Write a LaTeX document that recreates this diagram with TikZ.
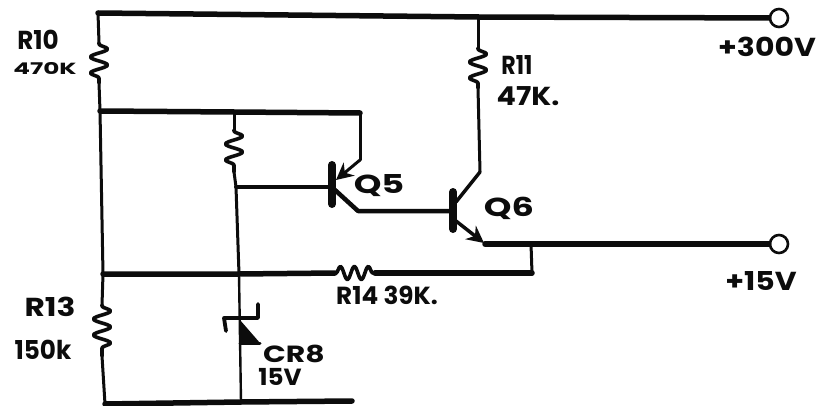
\documentclass[tikz,border=0pt]{standalone}
\usepackage{fontspec}
\setmainfont{Poppins}
\usepackage{tikz}
\usetikzlibrary{arrows.meta,decorations.pathmorphing}
\tikzset{>={Stealth[length=17pt,width=17pt]}}
\definecolor{inkblack}{RGB}{12, 12, 12}
\tikzset{
  wire/.style={inkblack,line width=3pt,line cap=round,line join=round},
  rail/.style={inkblack,line width=5.5pt,line cap=round,line join=round},
  barbase/.style={inkblack,line width=8pt,line cap=round},
  resv/.style={wire,line width=3.6pt,decorate,decoration={snake,segment length=16pt,amplitude=8.5pt,pre length=1pt,post length=1pt}},
  resh/.style={wire,line width=3.6pt,decorate,decoration={snake,segment length=14pt,amplitude=6.5pt,pre length=1pt,post length=1pt}},
  terminal/.style={circle,draw=inkblack,fill=white,line width=2.6pt,minimum size=18pt,inner sep=0pt},
  lab/.style={inkblack,inner sep=0pt,font=\fontsize{26}{28}\selectfont},
}

\begin{document}
\begin{tikzpicture}[x=1pt,y=-1pt]
\useasboundingbox (0,0) rectangle (821,406);
\fill[white] (0,0) rectangle (821,406);
% supply rails
\coordinate (topleft) at (98,13);
\coordinate (topr11) at (478,17);
\node[terminal] (t300) at (779,18) {};
\coordinate (midleft) at (100,111);
\coordinate (midr) at (234,112);
\coordinate (midright) at (360,113);
\coordinate (fbleft) at (103,274);
\coordinate (fbz) at (239,274);
\coordinate (r14a) at (335,273);
\coordinate (r14b) at (375,273);
\coordinate (fbright) at (532,273);
\coordinate (botleft) at (105,404);
\coordinate (botz) at (241,402);
\coordinate (botright) at (352,401);
\draw[rail] (topleft) -- (topr11) -- (t300);
\draw[rail] (midleft) -- (midr) -- (midright);
\draw[rail] (fbleft) -- (fbz) -- (r14a);
\draw[rail] (r14b) -- (fbright);
\draw[rail] (botleft) -- (botz) -- (botright);
% left side
\coordinate (r10a) at (99,43);
\coordinate (r10b) at (99,83);
\coordinate (r13a) at (102,305);
\coordinate (r13b) at (102,356);
\draw[wire] (topleft) -- (r10a);
\draw[resv] (r10a) -- (r10b);
\draw[wire] (r10b) -- (midleft) -- (fbleft) -- (r13a);
\draw[resv] (r13a) -- (r13b);
\draw[wire] (r13b) -- (botleft);
\draw[resh] (r14a) -- (r14b);
% R11
\coordinate (r11a) at (478,48);
\coordinate (r11b) at (478,88);
\coordinate (q6bend) at (480,172);
\draw[wire] (topr11) -- (r11a);
\draw[resv] (r11a) -- (r11b);
\draw[wire] (r11b) -- (q6bend);
% Q5 bias
\coordinate (r12a) at (234,130);
\coordinate (r12b) at (234,172);
\coordinate (q5base) at (236,187);
\draw[wire] (midr) -- (r12a);
\draw[resv] (r12a) -- (r12b);
\draw[wire] (r12b) -- (q5base) -- (fbz);
% Q5
\coordinate (q5bara) at (332,165);
\coordinate (q5barb) at (332,204);
\coordinate (q5in) at (332,187);
\coordinate (q5ebend) at (360,160);
\coordinate (q5etip) at (336,180);
\coordinate (q5c) at (335,190);
\coordinate (q5cbend) at (358,211);
\coordinate (q6in) at (453,211);
\draw[barbase] (q5bara) -- (q5barb);
\draw[wire,line width=4pt] (q5base) -- (q5in);
\draw[wire] (midright) -- (q5ebend);
\draw[wire,->] (q5ebend) -- (q5etip);
\draw[rail,line width=4.5pt] (q5c) -- (q5cbend) -- (q6in);
% Q6
\coordinate (q6bara) at (453,192);
\coordinate (q6barb) at (453,229);
\coordinate (q6c) at (456,202);
\coordinate (q6e) at (456,221);
\coordinate (q6etip) at (484,243);
\coordinate (q6ebend) at (485,244);
\coordinate (fbtap) at (531,244);
\node[terminal] (t15) at (779,244) {};
\draw[barbase] (q6bara) -- (q6barb);
\draw[wire,line width=3.5pt] (q6bend) -- (q6c);
\draw[wire,line width=3.5pt,->] (q6e) -- (q6etip);
\draw[rail] (q6ebend) -- (fbtap) -- (t15);
\draw[wire] (fbtap) -- (fbright);
% zener
\coordinate (zbara) at (226,331);
\coordinate (zbarb) at (224,318);
\coordinate (zbarc) at (258,318);
\coordinate (zbard) at (258,304);
\coordinate (ztri) at (260,343);
\coordinate (ztop) at (240,320);
\coordinate (zbot) at (240,343);
\draw[wire,line width=3.8pt] (zbara) -- (zbarb) -- (zbarc) -- (zbard);
\fill[inkblack] (ztop) -- (ztri) -- (zbot) -- cycle;
\draw[wire,line width=2.4pt] (botz) -- (fbz);
\draw[wire] (ztri) -- (zbot);
% labels
\node[lab,xscale=.95] (lr10) at (38,40) {\bfseries R10};
\node[lab,xscale=.95,yscale=.62] (l470) at (45,68) {\bfseries 470K};
\node[lab,xscale=.85] (lr11) at (517,65) {\bfseries R11};
\node[lab,xscale=1.1] (l47) at (528,96) {\bfseries 47K.};
\node[lab,xscale=1.15] (l300) at (767,47) {\bfseries +300V};
\node[lab,xscale=1.35] (lq5) at (379,186) {\bfseries Q5};
\node[lab,xscale=1.35] (lq6) at (509,208) {\bfseries Q6};
\node[lab,xscale=1.15] (l15) at (761,281) {\bfseries +15V};
\node[lab,xscale=.95,yscale=.95] (lr14) at (387,295) {\bfseries R14 39K.};
\node[lab,xscale=1.2] (lr13) at (50,307) {\bfseries R13};
\node[lab,xscale=.95] (l150) at (43,350) {\bfseries 150k};
\node[lab,xscale=1.15,yscale=.9] (lcr8) at (294,354) {\bfseries CR8};
\node[lab,xscale=.95,yscale=.9] (l15v) at (280,377) {\bfseries 15V};
\end{tikzpicture}
\end{document}
